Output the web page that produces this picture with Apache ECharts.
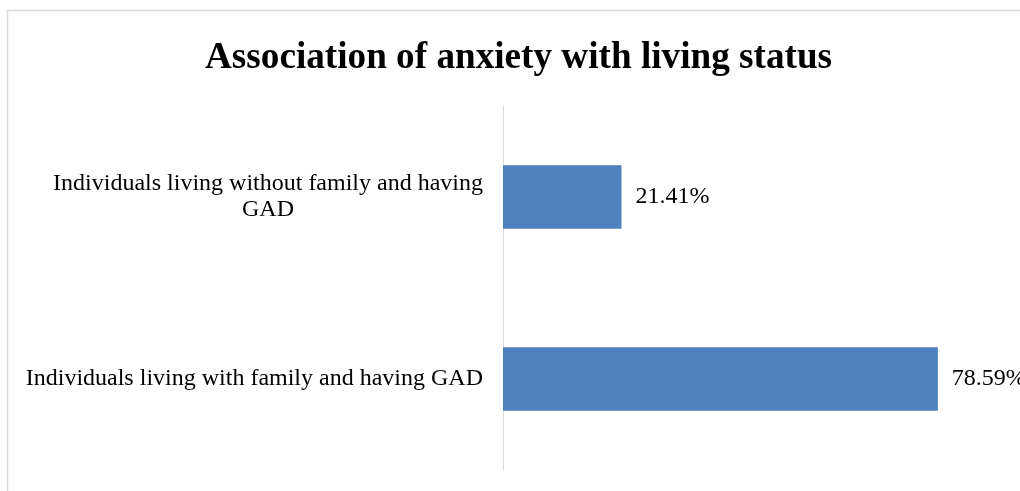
<!DOCTYPE html>
<html>
<head>
<meta charset="utf-8">
<title>Association of anxiety with living status</title>
<script src="https://cdn.jsdelivr.net/npm/echarts@6/dist/echarts.min.js"></script>
<style>
  html, body { margin: 0; padding: 0; background: #ffffff; }
  #chart { width: 1020px; height: 491px; }
</style>
</head>
<body>
<div id="chart"></div>
<script>
// Categories listed bottom to top (Excel-style bar order)
const categories = [
  'Individuals living with family and having GAD',
  'Individuals living without family and having GAD'
];
// Share of GAD cases, in percent
const values = [78.59, 21.41];

const titleText = 'Association of anxiety with living status';
const serif = '"Liberation Serif", "Times New Roman", "DejaVu Serif", serif';

// Word-wrap a label to a maximum pixel width
const measureCtx = document.createElement('canvas').getContext('2d');
function wrapText(text, maxWidth, font) {
  measureCtx.font = font;
  const words = text.split(' ');
  const lines = [];
  let line = '';
  for (const w of words) {
    const trial = line ? line + ' ' + w : w;
    if (line && measureCtx.measureText(trial).width > maxWidth) {
      lines.push(line);
      line = w;
    } else {
      line = trial;
    }
  }
  if (line) lines.push(line);
  return lines;
}

const chart = echarts.init(document.getElementById('chart'), null, { renderer: 'canvas' });

chart.setOption({
  animation: false,
  backgroundColor: '#ffffff',
  title: {
    text: titleText,
    left: 200,
    top: 35,
    textStyle: {
      fontFamily: serif,
      fontSize: 37.2,
      fontWeight: 'bold',
      color: '#000000'
    }
  },
  graphic: [{
    type: 'rect',
    shape: { x: 7.5, y: 10.5, width: 1040, height: 520 },
    style: { fill: 'none', stroke: '#d9d9d9', lineWidth: 1.5 },
    silent: true,
    z: -1
  }],
  grid: {
    left: 503,
    width: 498,
    top: 106,
    bottom: 21,
    containLabel: false
  },
  xAxis: {
    type: 'value',
    min: 0,
    max: 90,
    show: false,
    splitLine: { show: false }
  },
  yAxis: {
    type: 'category',
    data: categories,
    axisLine: { show: true, lineStyle: { color: '#d9d9d9', width: 1 } },
    axisTick: { show: false },
    axisLabel: {
      margin: 20,
      align: 'right',
      formatter: function (val) {
        const lines = wrapText(val, 470, '24px ' + serif);
        return lines.map(l => '{c|' + l + '}').join('\n');
      },
      rich: {
        c: {
          align: 'center',
          fontFamily: serif,
          fontSize: 24,
          lineHeight: 26,
          color: '#000000'
        }
      }
    }
  },
  series: [{
    type: 'bar',
    data: values,
    barWidth: '35%',
    itemStyle: { color: '#4f81bd' },
    label: {
      show: true,
      position: 'right',
      distance: 14,
      formatter: p => p.value.toFixed(2) + '%',
      fontFamily: serif,
      fontSize: 24,
      color: '#000000'
    }
  }]
});
</script>
</body>
</html>
